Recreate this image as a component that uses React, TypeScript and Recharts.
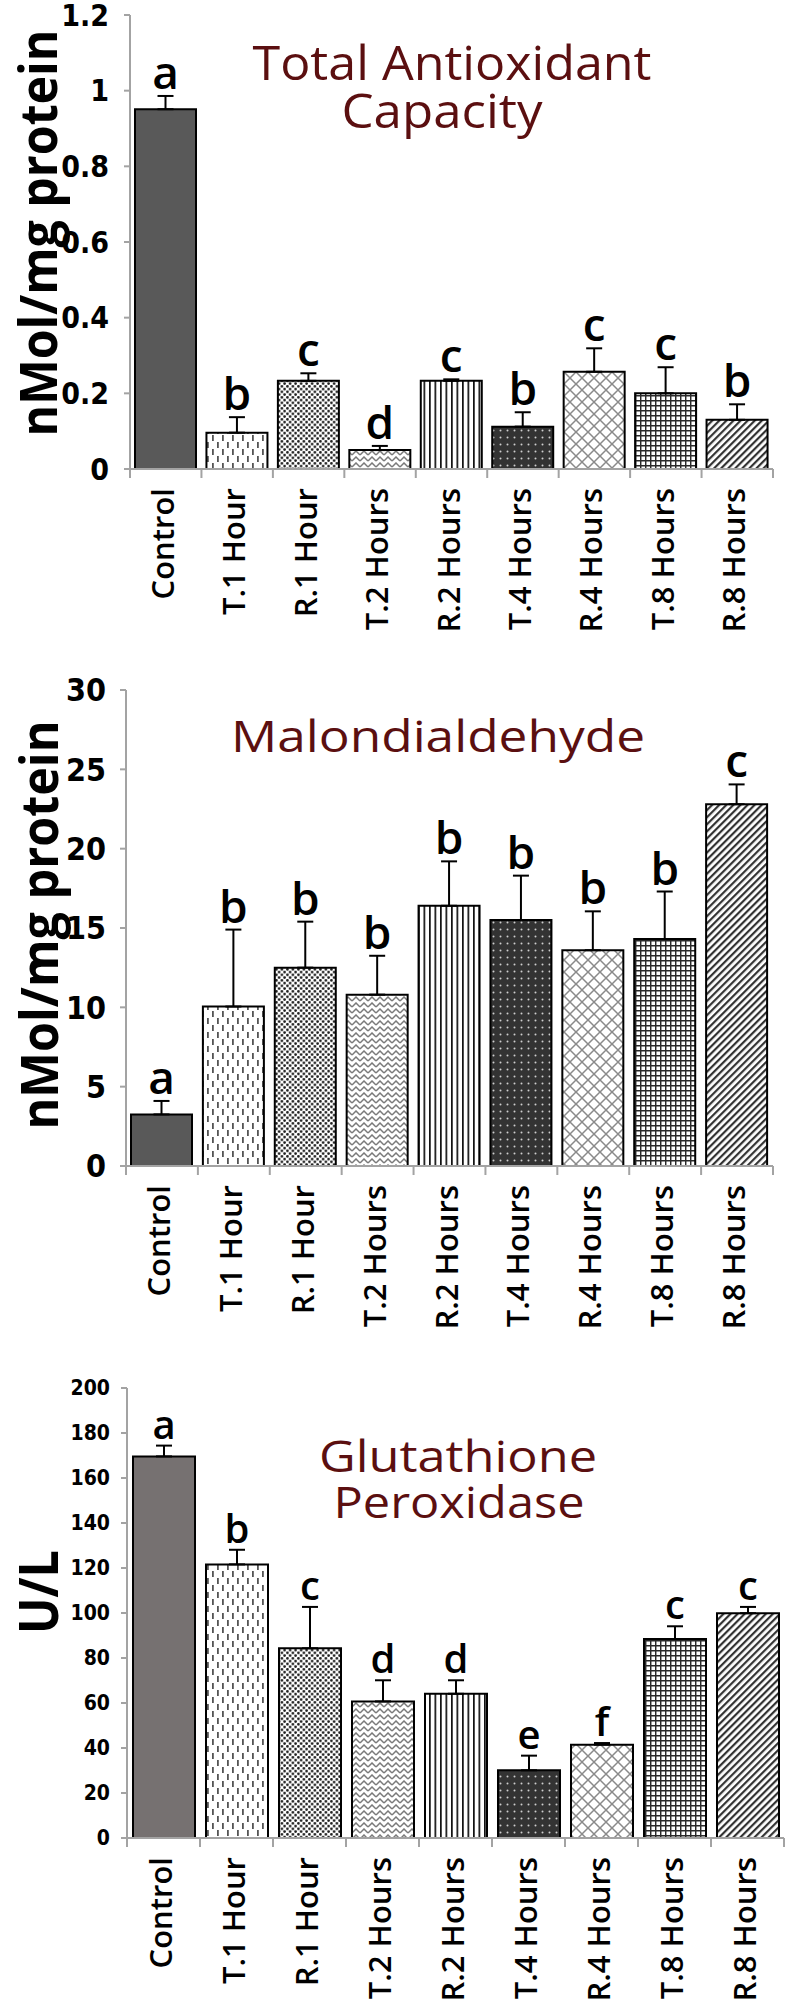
import { Bar, BarChart, Cell, ErrorBar, LabelList, XAxis, YAxis } from 'recharts'

const CATEGORIES = [
  'Control',
  'T.1 Hour',
  'R.1 Hour',
  'T.2 Hours',
  'R.2 Hours',
  'T.4 Hours',
  'R.4 Hours',
  'T.8 Hours',
  'R.8 Hours',
]

// Total antioxidant capacity (nMol/mg protein)
const TAC_VALUES = [0.951, 0.096, 0.233, 0.05, 0.233, 0.112, 0.257, 0.2, 0.13]
const TAC_ERRORS = [0.035, 0.041, 0.02, 0.011, 0.004, 0.038, 0.062, 0.069, 0.041]
const TAC_LETTERS = ['a', 'b', 'c', 'd', 'c', 'b', 'c', 'c', 'b']
const TAC_TICKS = [0, 0.2, 0.4, 0.6, 0.8, 1, 1.2]

// Malondialdehyde (nMol/mg protein)
const MDA_VALUES = [3.25, 10.05, 12.5, 10.8, 16.4, 15.5, 13.6, 14.3, 22.8]
const MDA_ERRORS = [0.85, 4.85, 2.9, 2.45, 2.8, 2.8, 2.45, 3.0, 1.25]
const MDA_LETTERS = ['a', 'b', 'b', 'b', 'b', 'b', 'b', 'b', 'c']
const MDA_TICKS = [0, 5, 10, 15, 20, 25, 30]

// Glutathione peroxidase (U/L)
const GPX_VALUES = [169.6, 121.6, 84.3, 60.7, 64.1, 30.1, 41.5, 88.4, 99.9]
const GPX_ERRORS = [4.8, 6.5, 18.4, 9.4, 6.0, 6.5, 0.7, 5.7, 2.8]
const GPX_LETTERS = ['a', 'b', 'c', 'd', 'd', 'e', 'f', 'c', 'c']
const GPX_TICKS = [0, 20, 40, 60, 80, 100, 120, 140, 160, 180, 200]

const AXIS_GRAY = '#a3a3a3'
const TITLE_RED = '#5b0f10'
const SANS = "'Open Sans', 'DejaVu Sans', sans-serif"
const NARROW = "'Liberation Sans Narrow', 'DejaVu Sans Condensed', sans-serif"

// fills for bars 2..9, same in every panel
const PATTERN_FILLS = [
  'url(#pt-dash)',
  'url(#pt-dots)',
  'url(#pt-zigzag)',
  'url(#pt-vlines)',
  'url(#pt-darkdots)',
  'url(#pt-diamond)',
  'url(#pt-grid)',
  'url(#pt-diag)',
]

function Patterns() {
  return (
    <svg width={0} height={0} style={{ position: 'absolute' }}>
      <defs>
        <pattern id="pt-dash" width={10} height={14} patternUnits="userSpaceOnUse">
          <rect width={10} height={14} fill="#fff" />
          <rect x={2} y={1} width={1.8} height={6} fill="#555" />
          <rect x={7} y={8} width={1.8} height={6} fill="#555" />
        </pattern>
        <pattern id="pt-dots" width={5.5} height={5.5} patternUnits="userSpaceOnUse">
          <rect width={5.5} height={5.5} fill="#fff" />
          <circle cx={1.4} cy={1.4} r={1.35} fill="#1a1a1a" />
          <circle cx={4.1} cy={4.1} r={1.35} fill="#1a1a1a" />
        </pattern>
        <pattern id="pt-zigzag" width={8} height={6} patternUnits="userSpaceOnUse">
          <rect width={8} height={6} fill="#fff" />
          <path d="M0 5 L4 1 L8 5" stroke="#7a7a7a" strokeWidth={1.5} fill="none" />
        </pattern>
        <pattern id="pt-vlines" width={5.5} height={4} patternUnits="userSpaceOnUse">
          <rect width={5.5} height={4} fill="#fff" />
          <rect x={0} width={1.7} height={4} fill="#111" />
        </pattern>
        <pattern id="pt-darkdots" width={7} height={7} patternUnits="userSpaceOnUse">
          <rect width={7} height={7} fill="#333" />
          <circle cx={3.5} cy={3.5} r={1} fill="#cfcfcf" />
        </pattern>
        <pattern id="pt-diamond" width={12} height={12} patternUnits="userSpaceOnUse">
          <rect width={12} height={12} fill="#fff" />
          <path d="M0 0 L12 12 M12 0 L0 12" stroke="#8a8a8a" strokeWidth={1.5} />
        </pattern>
        <pattern id="pt-grid" width={5} height={5} patternUnits="userSpaceOnUse">
          <rect width={5} height={5} fill="#fff" />
          <path d="M0 0.7 H5 M0.7 0 V5" stroke="#2a2a2a" strokeWidth={1.5} />
        </pattern>
        <pattern
          id="pt-diag"
          width={5}
          height={5}
          patternUnits="userSpaceOnUse"
          patternTransform="rotate(45)"
        >
          <rect width={5} height={5} fill="#fff" />
          <rect x={0} width={2.2} height={5} fill="#333" />
        </pattern>
      </defs>
    </svg>
  )
}

function CategoryTick(props: any) {
  const { x, y, payload, index, band } = props
  const half = typeof payload?.offset === 'number' && payload.offset > 0 ? payload.offset : band / 2
  const last = index === CATEGORIES.length - 1
  return (
    <g>
      <line x1={x - half} x2={x - half} y1={y} y2={y + 9} stroke={AXIS_GRAY} strokeWidth={2} />
      {last && (
        <line x1={x + half} x2={x + half} y1={y} y2={y + 9} stroke={AXIS_GRAY} strokeWidth={2} />
      )}
      <text
        x={x + 8}
        y={y + 19}
        transform={`rotate(-90 ${x + 8} ${y + 19})`}
        textAnchor="end"
        fontFamily={SANS}
        fontWeight={600}
        fontSize={31}
        fill="#000"
      >
        {payload.value}
      </text>
    </g>
  )
}

function letterLabel(values: number[], errors: number[], letters: string[], fontSize: number) {
  return (p: any) => {
    const x = Number(p.x)
    const y = Number(p.y)
    const w = Number(p.width)
    const h = Number(p.height)
    const i = p.index
    const perUnit = values[i] ? h / values[i] : 0
    const top = y - errors[i] * perUnit
    return (
      <text
        x={x + w / 2}
        y={top - 7}
        textAnchor="middle"
        fontFamily={SANS}
        fontWeight={600}
        fontSize={fontSize}
        fill="#000"
      >
        {letters[i]}
      </text>
    )
  }
}

interface PanelProps {
  top: number
  height: number
  values: number[]
  errors: number[]
  letters: string[]
  ticks: number[]
  axisLeft: number
  plotTop: number
  plotBottom: number
  plotRight: number
  tickFont: number
  tickMargin: number
  letterFont: number
  barSize: number
  controlFill: string
}

function Panel({
  top,
  height,
  values,
  errors,
  letters,
  ticks,
  axisLeft,
  plotTop,
  plotBottom,
  plotRight,
  tickFont,
  tickMargin,
  letterFont,
  barSize,
  controlFill,
}: PanelProps) {
  const data = CATEGORIES.map((name, i) => ({
    name,
    value: values[i],
    err: [0, errors[i]],
  }))
  const xAxisHeight = 150
  const band = (plotRight - axisLeft) / CATEGORIES.length
  return (
    <div style={{ position: 'absolute', left: 0, top }}>
      <BarChart
        width={788}
        height={height}
        data={data}
        margin={{ top: plotTop, right: 788 - plotRight, bottom: height - plotBottom - xAxisHeight, left: 0 }}
        barSize={barSize}
      >
        <XAxis
          dataKey="name"
          height={xAxisHeight}
          interval={0}
          tickSize={0}
          tickMargin={0}
          tickLine={false}
          axisLine={{ stroke: AXIS_GRAY, strokeWidth: 2 }}
          tick={<CategoryTick band={band} />}
        />
        <YAxis
          width={axisLeft}
          domain={[ticks[0], ticks[ticks.length - 1]]}
          ticks={ticks}
          interval={0}
          tickSize={6}
          tickMargin={tickMargin}
          axisLine={{ stroke: AXIS_GRAY, strokeWidth: 2 }}
          tickLine={{ stroke: AXIS_GRAY, strokeWidth: 2 }}
          tick={{ fill: '#000', fontSize: tickFont, fontFamily: NARROW, fontWeight: 700 }}
        />
        <Bar dataKey="value" stroke="#000" strokeWidth={2} isAnimationActive={false}>
          {data.map((d, i) => (
            <Cell key={d.name} fill={i === 0 ? controlFill : PATTERN_FILLS[i - 1]} />
          ))}
          <ErrorBar
            dataKey="err"
            direction="y"
            width={8}
            stroke="#000"
            strokeWidth={2}
            isAnimationActive={false}
          />
          <LabelList dataKey="value" content={letterLabel(values, errors, letters, letterFont)} />
        </Bar>
      </BarChart>
    </div>
  )
}

function Overlay() {
  const yTitle = { fontFamily: SANS, fontWeight: 700, fill: '#000' }
  const title = { fontFamily: SANS, fontWeight: 400, fill: TITLE_RED, textAnchor: 'middle' as const }
  return (
    <svg
      width={788}
      height={2010}
      style={{ position: 'absolute', left: 0, top: 0, pointerEvents: 'none' }}
    >
      <text
        {...yTitle}
        fontSize={52}
        x={57}
        y={233}
        textAnchor="middle"
        transform="rotate(-90 57 233)"
        textLength={407}
        lengthAdjust="spacingAndGlyphs"
      >
        nMol/mg protein
      </text>
      <text
        {...yTitle}
        fontSize={52}
        x={58}
        y={925}
        textAnchor="middle"
        transform="rotate(-90 58 925)"
        textLength={409}
        lengthAdjust="spacingAndGlyphs"
      >
        nMol/mg protein
      </text>
      <text
        {...yTitle}
        fontSize={54}
        x={58}
        y={1592}
        textAnchor="middle"
        transform="rotate(-90 58 1592)"
        textLength={84}
        lengthAdjust="spacingAndGlyphs"
      >
        U/L
      </text>

      <text {...title} fontSize={48} x={452} y={80} textLength={399} lengthAdjust="spacingAndGlyphs">
        Total Antioxidant
      </text>
      <text {...title} fontSize={48} x={442} y={128} textLength={201} lengthAdjust="spacingAndGlyphs">
        Capacity
      </text>
      <text {...title} fontSize={44} x={438} y={752} textLength={414} lengthAdjust="spacingAndGlyphs">
        Malondialdehyde
      </text>
      <text {...title} fontSize={44} x={458} y={1472} textLength={278} lengthAdjust="spacingAndGlyphs">
        Glutathione
      </text>
      <text {...title} fontSize={44} x={459} y={1518} textLength={251} lengthAdjust="spacingAndGlyphs">
        Peroxidase
      </text>
    </svg>
  )
}

export default function App() {
  return (
    <div
      style={{
        position: 'absolute',
        left: 0,
        top: 0,
        width: 788,
        height: 2010,
        background: '#fff',
        overflow: 'hidden',
      }}
    >
      <Patterns />
      <Panel
        top={0}
        height={660}
        values={TAC_VALUES}
        errors={TAC_ERRORS}
        letters={TAC_LETTERS}
        ticks={TAC_TICKS}
        axisLeft={130}
        plotTop={15}
        plotBottom={469}
        plotRight={773}
        tickFont={30}
        tickMargin={15}
        letterFont={46}
        barSize={61}
        controlFill="#595959"
      />
      <Panel
        top={660}
        height={700}
        values={MDA_VALUES}
        errors={MDA_ERRORS}
        letters={MDA_LETTERS}
        ticks={MDA_TICKS}
        axisLeft={126}
        plotTop={30}
        plotBottom={506}
        plotRight={773}
        tickFont={32}
        tickMargin={14}
        letterFont={46}
        barSize={61}
        controlFill="#595959"
      />
      <Panel
        top={1360}
        height={650}
        values={GPX_VALUES}
        errors={GPX_ERRORS}
        letters={GPX_LETTERS}
        ticks={GPX_TICKS}
        axisLeft={127}
        plotTop={28}
        plotBottom={478}
        plotRight={784}
        tickFont={21}
        tickMargin={11}
        letterFont={40}
        barSize={62}
        controlFill="#767171"
      />
      <Overlay />
    </div>
  )
}
